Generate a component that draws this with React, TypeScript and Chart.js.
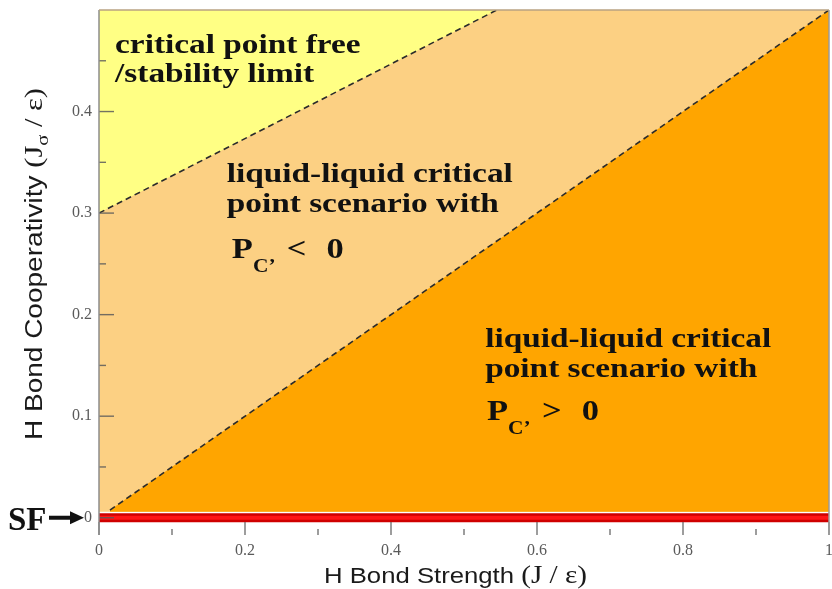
import React, { useEffect, useRef } from "react";
import { Chart, registerables } from "chart.js";

Chart.register(...registerables);

// Phase-diagram boundaries in (J/ε, Jσ/ε)
const upperBoundaryX = [0, 0.545];
const upperBoundaryY = [0.3, 0.5];
const lowerBoundaryX = [0.015, 1];
const lowerBoundaryY = [0.0075, 0.5];
// Singularity-free (SF) scenario lies on Jσ = 0
const sfLineX = [0, 1];
const sfLineY = [0, 0];
// Axis ranges and ticks
const xRange = [0, 1];
const yRange = [-0.017, 0.5];
const regionFloor = 0.006;
const xTickValues = [0, 0.2, 0.4, 0.6, 0.8, 1];
const xMinorTicks = [0.1, 0.3, 0.5, 0.7, 0.9];
const yTickValues = [0, 0.1, 0.2, 0.3, 0.4];
const yMinorTicks = [0.05, 0.15, 0.25, 0.35, 0.45];

const SERIF = "'Liberation Serif', 'Times New Roman', serif";
const SANS = "'Liberation Sans', Arial, sans-serif";
const TEXT_STRETCH = 1.19;

const pts = (xs: number[], ys: number[]) => xs.map((x, i) => ({ x, y: ys[i] }));

function drawText(ctx: CanvasRenderingContext2D, text: string, x: number, y: number, font: string, sx = TEXT_STRETCH, align: "left" | "right" = "left") {
  ctx.save();
  ctx.font = font;
  const w = ctx.measureText(text).width * sx;
  ctx.translate(align === "right" ? x - w : x, y);
  ctx.scale(sx, 1);
  ctx.textAlign = "left";
  ctx.textBaseline = "alphabetic";
  ctx.fillText(text, 0, 0);
  ctx.restore();
  return w;
}

type Piece = { text: string; font: string; dy?: number };

function drawRun(ctx: CanvasRenderingContext2D, pieces: Piece[], cx: number, cy: number, span: number, rotate: boolean) {
  ctx.save();
  ctx.translate(cx, cy);
  if (rotate) ctx.rotate(-Math.PI / 2);
  let total = 0;
  const widths = pieces.map((p) => {
    ctx.font = p.font;
    const w = ctx.measureText(p.text).width;
    total += w;
    return w;
  });
  ctx.scale(span / total, 1);
  ctx.textBaseline = "alphabetic";
  ctx.textAlign = "left";
  let x = -total / 2;
  pieces.forEach((p, i) => {
    ctx.font = p.font;
    ctx.fillText(p.text, x, p.dy || 0);
    x += widths[i];
  });
  ctx.restore();
}

const framePlugin = {
  id: "frameAndTicks",
  afterDatasetsDraw(chart: any) {
    const { ctx, chartArea: a, scales } = chart;
    const xs = scales.x;
    const ys = scales.y;
    ctx.save();
    ctx.lineCap = "butt";
    // tick marks pointing into the plot
    ctx.strokeStyle = "rgba(90,90,90,0.85)";
    ctx.lineWidth = 1.4;
    const tick = (x1: number, y1: number, x2: number, y2: number) => {
      ctx.beginPath();
      ctx.moveTo(x1, y1);
      ctx.lineTo(x2, y2);
      ctx.stroke();
    };
    yTickValues.forEach((v) => {
      const p = ys.getPixelForValue(v);
      tick(a.left, p, a.left + 15, p);
    });
    yMinorTicks.forEach((v) => {
      const p = ys.getPixelForValue(v);
      tick(a.left, p, a.left + 7, p);
    });
    xTickValues.forEach((v) => {
      const p = xs.getPixelForValue(v);
      tick(p, a.bottom, p, a.bottom - 13);
    });
    xMinorTicks.forEach((v) => {
      const p = xs.getPixelForValue(v);
      tick(p, a.bottom, p, a.bottom - 6);
    });
    // frame
    ctx.lineWidth = 1.5;
    ctx.strokeStyle = "#8c8c8c";
    tick(a.left, a.top, a.left, a.bottom);
    ctx.strokeStyle = "#9a9a9a";
    tick(a.right, a.top, a.right, a.bottom);
    ctx.strokeStyle = "#b9a282";
    tick(a.left, a.top, a.right, a.top);
    ctx.restore();
  },
};

const labelPlugin = {
  id: "phaseLabels",
  afterDatasetsDraw(chart: any) {
    const { ctx, scales } = chart;
    const px = (v: number) => scales.x.getPixelForValue(v);
    const py = (v: number) => scales.y.getPixelForValue(v);
    const bold = (s: number) => `bold ${s}px ${SERIF}`;
    ctx.save();
    ctx.fillStyle = "#111";

    drawText(ctx, "critical point free", px(0.022), py(0.4576), bold(28));
    drawText(ctx, "/stability limit", px(0.022), py(0.429), bold(28));

    drawText(ctx, "liquid-liquid critical", px(0.175), py(0.3306), bold(28));
    drawText(ctx, "point scenario with", px(0.175), py(0.301), bold(28));

    drawText(ctx, "liquid-liquid critical", px(0.529), py(0.1681), bold(28));
    drawText(ctx, "point scenario with", px(0.529), py(0.1385), bold(28));

    const pressure = (x0: number, yb: number, rel: string) => {
      const wp = drawText(ctx, "P", x0, yb, bold(29));
      drawText(ctx, "C\u2019", x0 + wp, yb + 14, bold(18));
      drawText(ctx, rel, x0 + 55, yb, bold(29));
      drawText(ctx, "0", x0 + 112, yb, bold(29), TEXT_STRETCH, "right");
    };
    pressure(px(0.182), py(0.2557), "<");
    pressure(px(0.5315), py(0.0962), ">");

    // SF marker pointing at Jσ = 0
    const y0 = py(0);
    ctx.font = bold(33);
    ctx.textBaseline = "alphabetic";
    ctx.fillText("SF", 8, y0 + 12);
    ctx.fillStyle = "#111";
    ctx.fillRect(49, y0 - 2, 24, 4);
    ctx.beginPath();
    ctx.moveTo(70, y0 - 6.5);
    ctx.lineTo(84, y0);
    ctx.lineTo(70, y0 + 6.5);
    ctx.closePath();
    ctx.fill();

    // axis titles
    ctx.fillStyle = "#1a1a1a";
    drawRun(
      ctx,
      [
        { text: "H Bond Strength ", font: `22px ${SANS}` },
        { text: "(J / \u03b5)", font: `25px ${SERIF}` },
      ],
      455.5,
      583,
      263,
      false
    );
    drawRun(
      ctx,
      [
        { text: "H Bond Cooperativity ", font: `23px ${SANS}` },
        { text: "(J", font: `25px ${SERIF}` },
        { text: "\u03c3", font: `17px ${SERIF}`, dy: 6 },
        { text: " / \u03b5)", font: `25px ${SERIF}` },
      ],
      42,
      264,
      352,
      true
    );
    ctx.restore();
  },
};

const fmt = (v: any) => String(Number(Number(v).toFixed(2)));

export default function App() {
  const ref = useRef<HTMLCanvasElement>(null);

  useEffect(() => {
    const canvas = ref.current;
    if (!canvas) return;
    const chart = new Chart(canvas, {
      type: "line",
      data: {
        datasets: [
          {
            label: "SF",
            data: pts(sfLineX, sfLineY),
            borderColor: "#ff1616",
            borderWidth: 4,
            fill: false,
            pointRadius: 0,
          },
          {
            label: "SF band",
            data: pts(sfLineX, sfLineY),
            borderColor: "#cf0000",
            borderWidth: 9,
            fill: false,
            pointRadius: 0,
          },
          {
            label: "Pc' > 0",
            data: pts(lowerBoundaryX, lowerBoundaryY),
            borderColor: "#2b2b2b",
            borderWidth: 1.6,
            borderDash: [6, 4],
            backgroundColor: "#ffa500",
            fill: { value: regionFloor },
            pointRadius: 0,
          },
          {
            label: "critical point free",
            data: pts(upperBoundaryX, upperBoundaryY),
            borderColor: "#2b2b2b",
            borderWidth: 1.6,
            borderDash: [6, 4],
            backgroundColor: "#ffff84",
            fill: "end",
            pointRadius: 0,
          },
          {
            label: "Pc' < 0",
            data: pts(xRange, [yRange[1], yRange[1]]),
            borderWidth: 0,
            borderColor: "rgba(0,0,0,0)",
            backgroundColor: "#fcd083",
            fill: { value: regionFloor },
            pointRadius: 0,
          },
        ],
      },
      options: {
        animation: false,
        responsive: false,
        maintainAspectRatio: false,
        layout: { padding: { top: 10, right: 3, left: 0, bottom: 0 } },
        plugins: {
          legend: { display: false },
          tooltip: { enabled: false },
        },
        scales: {
          x: {
            type: "linear",
            min: xRange[0],
            max: xRange[1],
            afterBuildTicks: (s: any) => {
              s.ticks = xTickValues.map((value) => ({ value }));
            },
            afterFit: (s: any) => {
              s.height = 54;
              s.paddingLeft = 0;
              s.paddingRight = 0;
            },
            grid: { display: false, drawTicks: false },
            border: { display: false },
            ticks: {
              padding: 6,
              color: "#5a5a5a",
              font: { family: SERIF, size: 16 },
              maxRotation: 0,
              autoSkip: false,
              callback: fmt,
            },
          },
          y: {
            type: "linear",
            min: yRange[0],
            max: yRange[1],
            afterBuildTicks: (s: any) => {
              s.ticks = yTickValues.map((value) => ({ value }));
            },
            afterFit: (s: any) => {
              s.width = 99;
              s.paddingTop = 0;
              s.paddingBottom = 0;
            },
            grid: { display: false, drawTicks: false },
            border: { display: false },
            ticks: {
              padding: 7,
              color: "#5a5a5a",
              font: { family: SERIF, size: 16 },
              autoSkip: false,
              callback: fmt,
            },
          },
        },
      },
      plugins: [framePlugin, labelPlugin],
    } as any);
    return () => chart.destroy();
  }, []);

  return (
    <div style={{ position: "fixed", left: 0, top: 0, width: 832, height: 589, background: "#ffffff" }}>
      <canvas ref={ref} width={832} height={589} style={{ display: "block" }} />
    </div>
  );
}
